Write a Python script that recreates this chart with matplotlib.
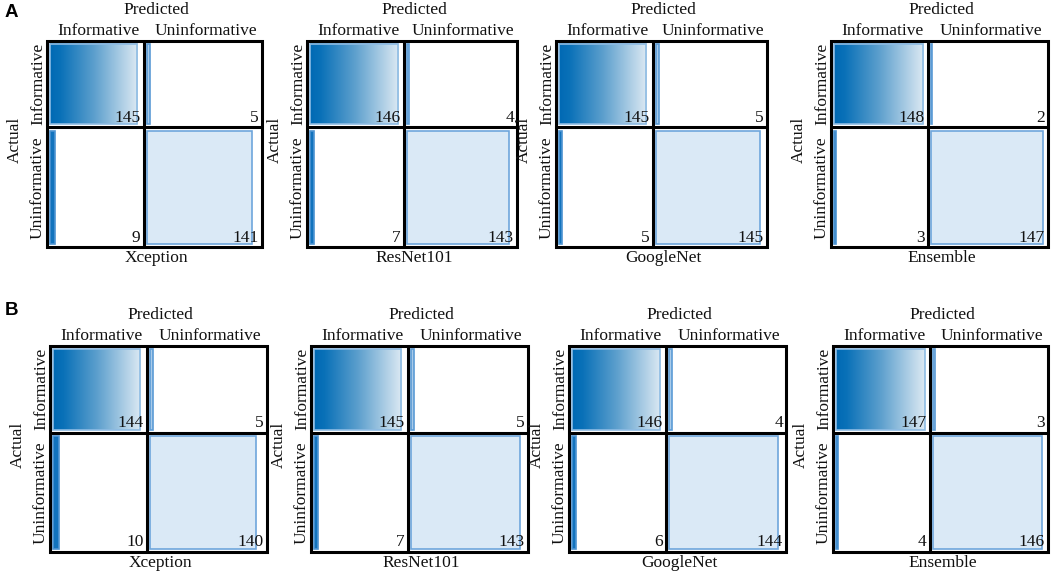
#!/usr/bin/env python3
"""Matrizes de confusao (A e B) desenhadas como barras dentro das celulas."""

import numpy as np
import matplotlib

matplotlib.use("Agg")
import matplotlib.pyplot as plt
from matplotlib.colors import LinearSegmentedColormap
from matplotlib.patches import Rectangle

# dados
MODELS = ["Xception", "ResNet101", "GoogleNet", "Ensemble"]
CLASSES = ["Informative", "Uninformative"]

A_TP = [145, 146, 145, 148]
A_FN = [5, 4, 5, 2]
A_FP = [9, 7, 5, 3]
A_TN = [141, 143, 145, 147]

B_TP = [144, 145, 146, 147]
B_FN = [5, 5, 4, 3]
B_FP = [10, 7, 6, 4]
B_TN = [140, 143, 144, 146]

# layout em pixels (figura 1052x576)
W, H = 1052, 576
ROW_Y = {"A": (41, 247), "B": (346, 552)}
ROW_X = {
    "A": [(47, 262), (307, 517), (556, 767), (831, 1048)],
    "B": [(50, 267), (311, 528), (569, 786), (833, 1048)],
}
COL_SPLIT = 96.5
ROW_SPLIT = 86.5
PAD = 3.0

SERIF = "Liberation Serif"
FS = 12.5
INK = "#111111"
GRAD = LinearSegmentedColormap.from_list(
    "grad", [(0, "#0069b4"), (0.12, "#0a71b8"), (0.5, "#5c9fcd"), (1, "#dce9f3")])
DARK = "#1273bd"
DARK_EDGE = "#4d94d2"
LIGHT = "#a9cbea"
LIGHT_EDGE = "#5b9bd5"
PALE = "#dae9f6"
PALE_EDGE = "#6ea6dc"
GRAD_EDGE = "#8dbbe3"


def draw_panel(fig, xs, ys, cm, name):
    x0, x1 = xs
    y0, y1 = ys
    w, h = x1 - x0, y1 - y0
    ax = fig.add_axes([x0 / W, 1 - y1 / H, w / W, h / H])
    cols = [(0, COL_SPLIT), (COL_SPLIT, w)]
    rows = [(0, ROW_SPLIT), (ROW_SPLIT, h)]
    for r in range(2):
        total = sum(cm[r])
        for c in range(2):
            v = cm[r][c]
            cx0, cx1 = cols[c]
            ry0, ry1 = rows[r]
            bx0 = cx0 + PAD
            bw = (cx1 - cx0 - 2 * PAD) * v / total
            by0, by1 = ry0 + PAD, ry1 - PAD
            if (r, c) == (0, 0):
                ax.imshow(np.linspace(0, 1, 256)[None, :], cmap=GRAD,
                          extent=[bx0, bx0 + bw, by1, by0], aspect="auto",
                          zorder=1, interpolation="bilinear")
                ax.add_patch(Rectangle((bx0, by0), bw, by1 - by0, fill=False,
                                       edgecolor=GRAD_EDGE, lw=1.2, zorder=2))
            else:
                fc, ec = {(0, 1): (LIGHT, LIGHT_EDGE),
                          (1, 0): (DARK, DARK_EDGE),
                          (1, 1): (PALE, PALE_EDGE)}[(r, c)]
                ax.add_patch(Rectangle((bx0, by0), bw, by1 - by0, facecolor=fc,
                                       edgecolor=ec, lw=1.2, zorder=2))
            ax.text(cx1 - 3, ry1 - 1.5, str(v), ha="right", va="bottom",
                    fontsize=FS, family=SERIF, color=INK, zorder=4)

    # grade preta
    ax.add_patch(Rectangle((0, 0), w, h, fill=False, edgecolor="black",
                           lw=2.2, zorder=5, clip_on=False))
    ax.plot([COL_SPLIT, COL_SPLIT], [0, h], color="black", lw=2.2,
            zorder=5, clip_on=False, solid_capstyle="butt")
    ax.plot([0, w], [ROW_SPLIT, ROW_SPLIT], color="black", lw=2.2,
            zorder=5, clip_on=False, solid_capstyle="butt")

    kw = dict(fontsize=FS, family=SERIF, color=INK, clip_on=False)
    ax.text(w / 2 + 2, -31, "Predicted", ha="center", va="center", **kw)
    for (c0, c1), lab in zip(cols, CLASSES):
        ax.text((c0 + c1) / 2 + 3, -10, lab, ha="center", va="center", **kw)
    for (r0, r1), lab in zip(rows, CLASSES):
        ax.text(-9, (r0 + r1) / 2, lab, ha="center", va="center",
                rotation=90, **kw)
    ax.text(-32, h / 2 - 4, "Actual", ha="center", va="center",
            rotation=90, **kw)
    ax.text(w / 2 + 2, h + 11, name, ha="center", va="center", **kw)

    ax.set_xlim(0, w)
    ax.set_ylim(h, 0)
    ax.axis("off")


def main():
    fig = plt.figure(figsize=(W / 100, H / 100), dpi=100)
    fig.patch.set_facecolor("white")
    sets = {"A": (A_TP, A_FN, A_FP, A_TN), "B": (B_TP, B_FN, B_FP, B_TN)}
    for key, (tp, fn, fp, tn) in sets.items():
        for i, name in enumerate(MODELS):
            cm = [[tp[i], fn[i]], [fp[i], tn[i]]]
            draw_panel(fig, ROW_X[key][i], ROW_Y[key], cm, name)

    fig.text(5 / W, 1 - 4 / H, "A", fontsize=13.5, fontweight="bold",
             family="Liberation Sans", va="top", ha="left")
    fig.text(5 / W, 1 - 302 / H, "B", fontsize=13.5, fontweight="bold",
             family="Liberation Sans", va="top", ha="left")
    fig.savefig("out.png", dpi=100, facecolor="white")
    plt.close(fig)


if __name__ == "__main__":
    main()
